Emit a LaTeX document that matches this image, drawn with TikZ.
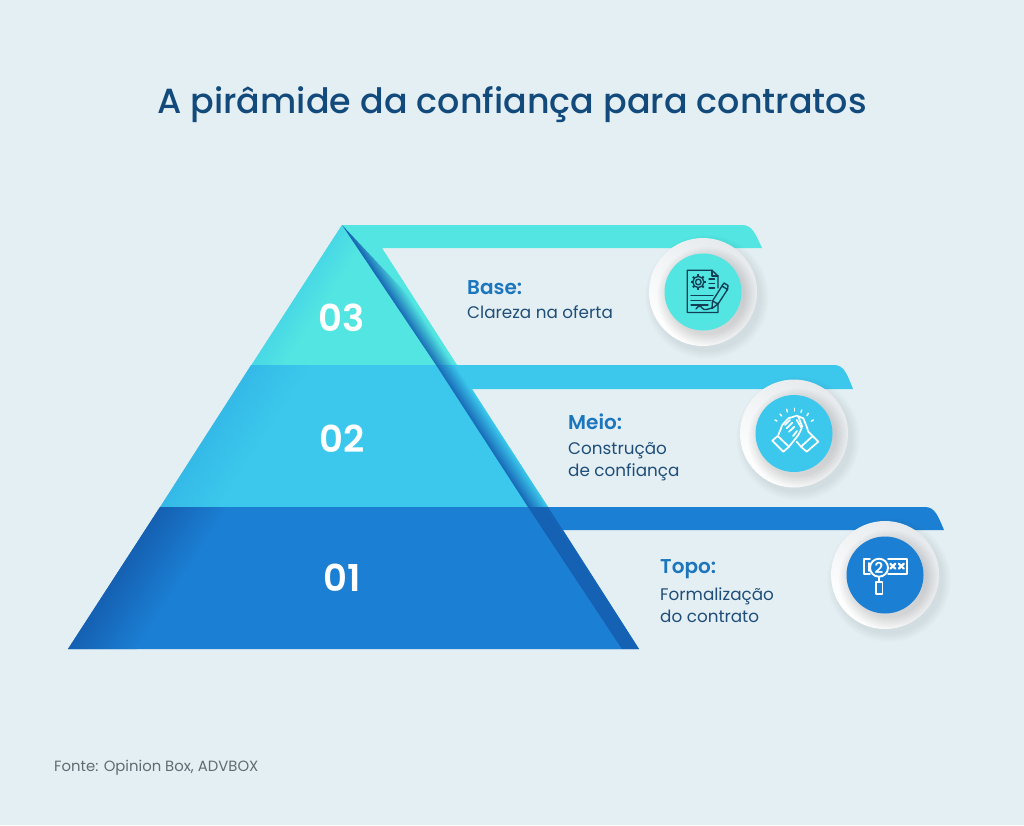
\documentclass[tikz,border=0pt]{standalone}
\usepackage{fontspec}
\setmainfont{Poppins}
\newfontfamily\pmed{Poppins Medium}
\newfontfamily\psemi{Poppins SemiBold}
\usetikzlibrary{calc}
\definecolor{bgc}{HTML}{E4EFF3}
\definecolor{teal3}{HTML}{52E5E1}
\definecolor{sky2}{HTML}{3BC8EC}
\definecolor{blue1}{HTML}{1B7FD3}
\definecolor{titlec}{HTML}{134A7C}
\definecolor{headc}{HTML}{1B76BE}
\definecolor{bodyc}{HTML}{1F4E79}
\definecolor{srcc}{HTML}{5E6C73}
\definecolor{icond}{HTML}{123F55}
\definecolor{darkb}{HTML}{1560B2}
\definecolor{discl}{HTML}{E6EAED}
\tikzset{
  txt/.style={inner sep=0pt,anchor=base west,align=left},
  head/.style={txt,text=headc,font=\psemi\fontsize{20}{22}\selectfont},
  body/.style={txt,text=bodyc,font=\fontsize{16.8}{21.5}\selectfont},
  num/.style={inner sep=0pt,text=white,font=\psemi\fontsize{37}{40}\selectfont},
  iconw/.style={draw=white,line width=1.7pt,line join=round,line cap=round},
  iconk/.style={draw=icond,line width=1.35pt,line join=round,line cap=round},
}
% medallion: centre x, centre y, colour
\newcommand{\medal}[3]{%
  \foreach \r in {54,55,...,62}{\fill[black!60!cyan,opacity=0.012] (#1+4,#2+5) circle[radius=\r];}
  \shade[left color=discl,right color=white,shading angle=-35] (#1,#2) circle[radius=54];
  \begin{scope}
    \clip (#1,#2) circle[radius=54];
    \foreach \r in {38,39.5,...,50}{\fill[black,opacity=0.014] (#1+4,#2+5) circle[radius=\r];}
  \end{scope}
  \fill[#3] (#1,#2) circle[radius=38.5];
}
\begin{document}
\begin{tikzpicture}[x=1pt,y=-1pt]
\useasboundingbox (0,0) rectangle (1024,825);
\fill[bgc] (0,0) rectangle (1024,825);

% bands
\fill[teal3] (342,225) -- (742,225) .. controls (752,225) and (755,233) .. (762,248) -- (382,248) -- (457,365) -- (420,365) -- cycle;
\fill[sky2] (420,365) -- (834,365) .. controls (844,365) and (847,374) .. (853,389) -- (472,389) -- (548,507) -- (520,507) -- cycle;
\fill[blue1] (520,507) -- (925,507) .. controls (935,507) and (938,516) .. (944,530) -- (563,530) -- (639,649) -- (560,649) -- cycle;

% pyramid levels
\fill[teal3] (342,225) -- (251,366) -- (434,366) -- cycle;
\fill[sky2] (251,365) -- (160,508) -- (528,508) -- (434,365) -- cycle;
\fill[blue1] (160,507) -- (68,649) -- (622,649) -- (528,507) -- cycle;

% left-edge shading
\begin{scope}
  \clip (342,225) -- (251,365) -- (434,365) -- cycle;
  \begin{scope}[transform canvas={shift={(342,225)},rotate=-32.9}]
    \shade[left color=sky2!45!teal3,right color=teal3] (0,-5) rectangle (28,600);
  \end{scope}
\end{scope}
\begin{scope}
  \clip (251,365) -- (160,507) -- (528,507) -- (434,365) -- cycle;
  \begin{scope}[transform canvas={shift={(342,225)},rotate=-32.9}]
    \shade[left color=sky2!80!blue1,right color=sky2] (0,-5) rectangle (50,600);
  \end{scope}
\end{scope}
\begin{scope}
  \clip (160,507) -- (68,649) -- (622,649) -- (528,507) -- cycle;
  \begin{scope}[transform canvas={shift={(342,225)},rotate=-32.9}]
    \shade[left color=darkb,right color=blue1] (0,-5) rectangle (58,600);
  \end{scope}
\end{scope}

% dark sliver on the right
\begin{scope}
  \clip (342,225) -- (436,365) -- (457,365) -- (422,310) -- cycle;
  \begin{scope}[transform canvas={shift={(342,225)},rotate=33.2}]
    \shade[left color=darkb,right color=teal3] (0,-5) rectangle (17,600);
  \end{scope}
\end{scope}
\begin{scope}
  \clip (436,365) -- (528,507) -- (548,507) -- (457,365) -- cycle;
  \begin{scope}[transform canvas={shift={(342,225)},rotate=33.2}]
    \shade[left color=darkb,right color=sky2] (0,-5) rectangle (18,600);
  \end{scope}
\end{scope}
\begin{scope}
  \clip (528,507) -- (622,649) -- (639,649) -- (548,507) -- cycle;
  \begin{scope}[transform canvas={shift={(342,225)},rotate=33.2}]
    \shade[left color=darkb,right color=darkb!90!blue1] (0,-5) rectangle (18,600);
  \end{scope}
\end{scope}

% title and numbers
\node[inner sep=0pt,anchor=base,text=titlec,font=\pmed\fontsize{34.9}{40}\selectfont] (title) at (512,113) {A pirâmide da confiança para contratos};
\node[num] (n3) at (342,318) {03};
\node[num] (n2) at (342,439) {02};
\node[num] (n1) at (342,578) {01};

% labels
\node[head] (h3) at (467,294.5) {Base:};
\node[body] (b3) at (467,318.5) {Clareza na oferta};
\node[head] (h2) at (568,429.5) {Meio:};
\node[body] (b2) at (568,476) {Construção\\de confiança};
\node[head] (h1) at (660,573.5) {Topo:};
\node[body] (b1) at (660,622) {Formalização\\do contrato};
\node[txt,text=srcc,font=\fontsize{14.85}{18}\selectfont] (src) at (54,771) {Fonte: Opinion Box, ADVBOX};

% medallions
\medal{703}{292}{teal3}
\medal{794}{433.5}{sky2}
\medal{885}{575}{blue1}

% icon: document
\draw[iconk] (718,288) -- (718,276) -- (712,270.3) -- (687.3,270.3) -- (687.3,312.5) -- (718,312.5) -- (718,303);
\draw[iconk] (712,270.3) -- (712,276) -- (718,276);
\draw[iconk] (698.3,282) circle[radius=2.8];
\draw[iconk] (698.3,282) circle[radius=5.6];
\foreach \a in {0,45,...,315}{\draw[iconk,line width=2pt,line cap=butt] ($(698.3,282)+(\a:5.6)$) -- ($(698.3,282)+(\a:7.6)$);}
\foreach \yy in {279,283.5,288}{\draw[iconk] (709,\yy) -- (714.5,\yy);}
\draw[iconk] (691,295.3) -- (713,295.3);
\draw[iconk] (691,300.3) -- (711,300.3);
\draw[iconk] (691,305) -- (708,305);
\draw[iconk] (696,309) .. controls (698,305.5) and (701,305.5) .. (702,308) .. controls (704,311) and (708,309) .. (712,308);
\draw[iconk] (712,308.5) -- (712.5,301) -- (722,286) -- (727.5,289.5) -- (718,304) -- cycle;
\draw[iconk] (712.5,301) -- (718,304);
\draw[iconk] (722,286) -- (724,283) -- (728,285.5) -- (727.5,289.5);

% icon: handshake
\draw[iconw] (772.3,440.7) -- (783.3,451.7) -- (789,446.7) -- (777.7,436) -- cycle;
\draw[iconw] (818.3,441.7) -- (806.7,451.7) -- (801,446.7) -- (812.7,436) -- cycle;
\draw[iconw] (778.3,435) -- (782.3,425) -- (788.3,418.3) -- (796.7,415.7) -- (803.3,418.3) -- (806.7,426.7) -- (808.3,431.7) -- (812.7,436);
\draw[iconw] (789,446.7) -- (798.3,435) -- (801.7,428.3) -- (796.7,420);
\draw[iconw] (796.7,441.7) -- (801,446.7);
\draw[iconw] (785,425) -- (790,420);
\draw[iconw] (786.7,428.3) -- (792.3,422.7);
\draw[iconw] (789,431.7) -- (794.3,426.7);
\draw[iconw] (793,436) -- (797,431);
\draw[iconw] (798.3,416.7) -- (802.3,426.7);
\foreach \ax/\ay/\bx/\by in {775/420/777/421, 780/414/781.7/416, 786.7/409.3/787.3/412, 794.3/408.3/794.3/411, 801.7/410/801/412.3, 808.3/413.3/807/415.7, 813.3/420/811.3/421.3}{\draw[iconw,line width=1.4pt] (\ax,\ay) -- (\bx,\by);}

% icon: magnifier on label
\draw[iconw] (870,574.3) -- (864.3,574.3) -- (864.3,559) -- (870,559);
\draw[iconw] (869,563) -- (869,571);
\draw[iconw] (888,559) -- (906.7,559) -- (906.7,574.3) -- (888,574.3);
\draw[iconw,line width=1.9pt] (879,567.7) circle[radius=9];
\node[inner sep=0pt,text=white,font=\psemi\fontsize{15}{15}\selectfont] (two) at (879,567.7) {2};
\draw[iconw,line width=2.2pt] (890.3,563.7) -- (895.3,568.7);
\draw[iconw,line width=2.2pt] (895.3,563.7) -- (890.3,568.7);
\draw[iconw,line width=2.2pt] (898.8,563.7) -- (903.8,568.7);
\draw[iconw,line width=2.2pt] (903.8,563.7) -- (898.8,568.7);
\draw[iconw] (879,577) -- (879,581.7);
\draw[iconw] (876,581.7) rectangle (882.5,594.3);
\end{tikzpicture}
\end{document}
